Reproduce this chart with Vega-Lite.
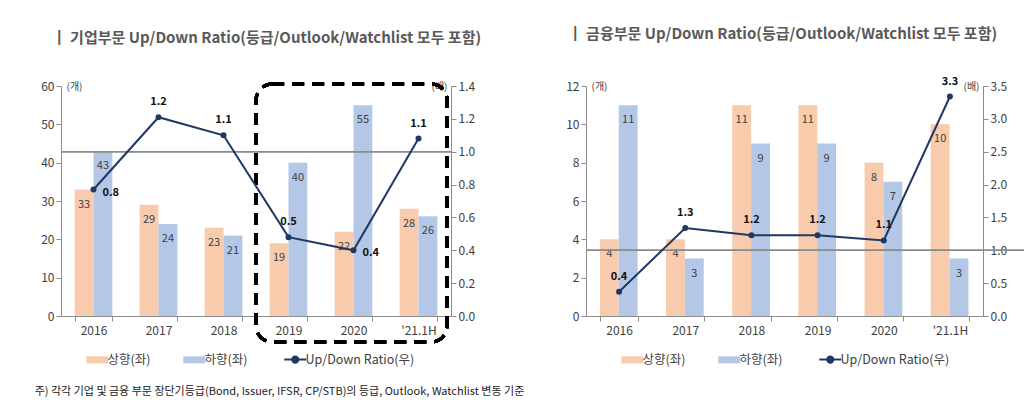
{
  "$schema": "https://vega.github.io/schema/vega-lite/v6.json",
  "background": "white",
  "padding": {"left": 34, "top": 26, "right": 5, "bottom": 5},
  "bounds": "flush",
  "spacing": 135,
  "config": {
    "font": "Noto Sans CJK KR",
    "view": {"stroke": null},
    "axis": {"labelFontSize": 12, "labelColor": "#404040", "domainColor": "#8c8c8c", "tickColor": "#8c8c8c", "grid": false, "tickSize": 5, "labelPadding": 2, "labelOverlap": false}
  },
  "title": {"text": "주) 각각 기업 및 금융 부문 장단기등급(Bond, Issuer, IFSR, CP/STB)의 등급, Outlook, Watchlist 변동 기준", "orient": "bottom", "anchor": "start", "fontSize": 11, "fontWeight": "normal", "color": "#222222", "offset": 19, "dx": -6},
  "datasets": {
    "corpBars": [
      {"year": "2016", "series": "상향(좌)", "value": 33}, {"year": "2016", "series": "하향(좌)", "value": 43},
      {"year": "2017", "series": "상향(좌)", "value": 29}, {"year": "2017", "series": "하향(좌)", "value": 24},
      {"year": "2018", "series": "상향(좌)", "value": 23}, {"year": "2018", "series": "하향(좌)", "value": 21},
      {"year": "2019", "series": "상향(좌)", "value": 19}, {"year": "2019", "series": "하향(좌)", "value": 40},
      {"year": "2020", "series": "상향(좌)", "value": 22}, {"year": "2020", "series": "하향(좌)", "value": 55},
      {"year": "'21.1H", "series": "상향(좌)", "value": 28}, {"year": "'21.1H", "series": "하향(좌)", "value": 26}
    ],
    "corpRatio": [
      {"year": "2016", "ratio": 0.77}, {"year": "2017", "ratio": 1.21}, {"year": "2018", "ratio": 1.1},
      {"year": "2019", "ratio": 0.48}, {"year": "2020", "ratio": 0.4}, {"year": "'21.1H", "ratio": 1.08}
    ],
    "finBars": [
      {"year": "2016", "series": "상향(좌)", "value": 4}, {"year": "2016", "series": "하향(좌)", "value": 11},
      {"year": "2017", "series": "상향(좌)", "value": 4}, {"year": "2017", "series": "하향(좌)", "value": 3},
      {"year": "2018", "series": "상향(좌)", "value": 11}, {"year": "2018", "series": "하향(좌)", "value": 9},
      {"year": "2019", "series": "상향(좌)", "value": 11}, {"year": "2019", "series": "하향(좌)", "value": 9},
      {"year": "2020", "series": "상향(좌)", "value": 8}, {"year": "2020", "series": "하향(좌)", "value": 7},
      {"year": "'21.1H", "series": "상향(좌)", "value": 10}, {"year": "'21.1H", "series": "하향(좌)", "value": 3}
    ],
    "finRatio": [
      {"year": "2016", "ratio": 0.37}, {"year": "2017", "ratio": 1.34}, {"year": "2018", "ratio": 1.23},
      {"year": "2019", "ratio": 1.23}, {"year": "2020", "ratio": 1.15}, {"year": "'21.1H", "ratio": 3.34}
    ]
  },
  "hconcat": [
    {
      "width": 390, "height": 230,
      "title": {"text": "┃ 기업부문 Up/Down Ratio(등급/Outlook/Watchlist 모두 포함)", "anchor": "start", "fontSize": 15, "fontWeight": "bold", "color": "#595959", "offset": 34, "dx": 11},
      "layer": [
        {
          "data": {"name": "corpBars"},
          "encoding": {
            "x": {"field": "year", "type": "nominal", "sort": ["2016", "2017", "2018", "2019", "2020", "'21.1H"], "scale": {"paddingInner": 0.42, "paddingOuter": 0.21}, "axis": {"title": null, "tickBand": "extent", "labelAngle": 0, "labelPadding": 4}},
            "y": {"field": "value", "type": "quantitative", "scale": {"domain": [0, 60]}, "axis": {"values": [0, 10, 20, 30, 40, 50, 60], "title": "(개)", "titleAngle": 0, "titleX": 5, "titleY": 0, "titleAlign": "left", "titleBaseline": "middle", "titleFontSize": 10, "titleFontWeight": "normal", "titleColor": "#404040"}}
          },
          "layer": [
            {
              "mark": {"type": "bar"},
              "encoding": {
                "xOffset": {"field": "series", "type": "nominal", "sort": ["상향(좌)", "하향(좌)"], "scale": {"paddingInner": 0, "paddingOuter": 0}},
                "color": {"field": "series", "type": "nominal", "scale": {"domain": ["상향(좌)", "하향(좌)", "Up/Down Ratio(우)"], "range": ["#F8CBAD", "#B4C7E7", "#1F3864"]},
                  "legend": {"orient": "none", "legendX": 30, "legendY": 267, "direction": "horizontal", "title": null, "labelFontSize": 12.5, "labelColor": "#404040", "symbolSize": 484, "columnPadding": 32, "labelOffset": 4,
                    "encode": {"symbols": {"update": {
                      "shape": {"signal": "datum.value === 'Up/Down Ratio(우)' ? 'M-1,0H1M-0.28,0A0.28,0.28,0,1,1,0.28,0A0.28,0.28,0,1,1,-0.28,0Z' : 'M-1,-0.32H1V0.32H-1Z'"},
                      "fill": {"signal": "datum.value === '상향(좌)' ? '#F8CBAD' : datum.value === '하향(좌)' ? '#B4C7E7' : '#1F3864'"},
                      "stroke": {"signal": "datum.value === 'Up/Down Ratio(우)' ? '#1F3864' : 'transparent'"},
                      "strokeWidth": {"signal": "datum.value === 'Up/Down Ratio(우)' ? 2 : 0"},
                      "opacity": {"value": 1}
                    }}}}}
              }
            },
            {
              "mark": {"type": "text", "baseline": "middle", "dy": 15, "fontSize": 11, "color": "#404040"},
              "encoding": {
                "xOffset": {"field": "series", "type": "nominal", "sort": ["상향(좌)", "하향(좌)"]},
                "text": {"field": "value", "type": "quantitative"}
              }
            },
            {
              "mark": {"type": "rect", "filled": false, "stroke": "#000000", "strokeWidth": 3, "strokeDash": [12, 8], "cornerRadius": 16, "clip": false},
              "encoding": {
                "x": {"datum": "2019", "type": "nominal", "bandPosition": -0.36},
                "x2": {"datum": "'21.1H", "bandPosition": 1.26},
                "y": {"datum": -6.8, "type": "quantitative"},
                "y2": {"datum": 60.5}
              }
            }
          ]
        },
        {
          "data": {"name": "corpRatio"},
          "encoding": {
            "x": {"field": "year", "type": "nominal", "sort": ["2016", "2017", "2018", "2019", "2020", "'21.1H"]},
            "y": {"field": "ratio", "type": "quantitative", "scale": {"domain": [0, 1.4]}, "axis": {"orient": "right", "values": [0, 0.2, 0.4, 0.6, 0.8, 1.0, 1.2, 1.4], "format": ".1f", "title": "(배)", "titleAngle": 0, "titleX": -4, "titleY": 0, "titleAlign": "right", "titleBaseline": "middle", "titleFontSize": 10, "titleFontWeight": "normal", "titleColor": "#404040"}}
          },
          "layer": [
            {
              "mark": {"type": "rule", "color": "#8c8c8c", "strokeWidth": 1},
              "encoding": {"x": null, "y": {"datum": 1, "type": "quantitative"}}
            },
            {
              "mark": {"type": "line", "color": "#1F3864", "strokeWidth": 2, "point": {"filled": true, "size": 36, "color": "#1F3864"}}
            },
            {
              "transform": [{"filter": {"field": "year", "oneOf": ["2017", "2018", "2019", "'21.1H"]}}],
              "mark": {"type": "text", "baseline": "middle", "dy": -15, "fontSize": 11, "fontWeight": "bold", "color": "#111111"},
              "encoding": {"text": {"field": "ratio", "type": "quantitative", "format": ".1f"}}
            },
            {
              "transform": [{"filter": {"field": "year", "oneOf": ["2016", "2020"]}}],
              "mark": {"type": "text", "baseline": "middle", "align": "left", "dx": 9, "dy": 3, "fontSize": 11, "fontWeight": "bold", "color": "#111111"},
              "encoding": {"text": {"field": "ratio", "type": "quantitative", "format": ".1f"}}
            }
          ]
        }
      ],
      "resolve": {"scale": {"y": "independent"}}
    },
    {
      "width": 397, "height": 230,
      "title": {"text": "┃ 금융부문 Up/Down Ratio(등급/Outlook/Watchlist 모두 포함)", "anchor": "start", "fontSize": 15, "fontWeight": "bold", "color": "#595959", "offset": 34, "dx": 2},
      "layer": [
        {
          "data": {"name": "finBars"},
          "encoding": {
            "x": {"field": "year", "type": "nominal", "sort": ["2016", "2017", "2018", "2019", "2020", "'21.1H"], "scale": {"paddingInner": 0.42, "paddingOuter": 0.21}, "axis": {"title": null, "tickBand": "extent", "labelAngle": 0, "labelPadding": 4}},
            "y": {"field": "value", "type": "quantitative", "scale": {"domain": [0, 12]}, "axis": {"values": [0, 2, 4, 6, 8, 10, 12], "title": "(개)", "titleAngle": 0, "titleX": 5, "titleY": 0, "titleAlign": "left", "titleBaseline": "middle", "titleFontSize": 10, "titleFontWeight": "normal", "titleColor": "#404040"}}
          },
          "layer": [
            {
              "mark": {"type": "bar"},
              "encoding": {
                "xOffset": {"field": "series", "type": "nominal", "sort": ["상향(좌)", "하향(좌)"], "scale": {"paddingInner": 0, "paddingOuter": 0}},
                "color": {"field": "series", "type": "nominal", "scale": {"domain": ["상향(좌)", "하향(좌)", "Up/Down Ratio(우)"], "range": ["#F8CBAD", "#B4C7E7", "#1F3864"]},
                  "legend": {"orient": "none", "legendX": 40, "legendY": 267, "direction": "horizontal", "title": null, "labelFontSize": 12.5, "labelColor": "#404040", "symbolSize": 484, "columnPadding": 32, "labelOffset": 4,
                    "encode": {"symbols": {"update": {
                      "shape": {"signal": "datum.value === 'Up/Down Ratio(우)' ? 'M-1,0H1M-0.28,0A0.28,0.28,0,1,1,0.28,0A0.28,0.28,0,1,1,-0.28,0Z' : 'M-1,-0.32H1V0.32H-1Z'"},
                      "fill": {"signal": "datum.value === '상향(좌)' ? '#F8CBAD' : datum.value === '하향(좌)' ? '#B4C7E7' : '#1F3864'"},
                      "stroke": {"signal": "datum.value === 'Up/Down Ratio(우)' ? '#1F3864' : 'transparent'"},
                      "strokeWidth": {"signal": "datum.value === 'Up/Down Ratio(우)' ? 2 : 0"},
                      "opacity": {"value": 1}
                    }}}}}
              }
            },
            {
              "mark": {"type": "text", "baseline": "middle", "dy": 15, "fontSize": 11, "color": "#404040"},
              "encoding": {
                "xOffset": {"field": "series", "type": "nominal", "sort": ["상향(좌)", "하향(좌)"]},
                "text": {"field": "value", "type": "quantitative"}
              }
            }
          ]
        },
        {
          "data": {"name": "finRatio"},
          "encoding": {
            "x": {"field": "year", "type": "nominal", "sort": ["2016", "2017", "2018", "2019", "2020", "'21.1H"]},
            "y": {"field": "ratio", "type": "quantitative", "scale": {"domain": [0, 3.5]}, "axis": {"orient": "right", "values": [0, 0.5, 1.0, 1.5, 2.0, 2.5, 3.0, 3.5], "format": ".1f", "title": "(배)", "titleAngle": 0, "titleX": -4, "titleY": 0, "titleAlign": "right", "titleBaseline": "middle", "titleFontSize": 10, "titleFontWeight": "normal", "titleColor": "#404040"}}
          },
          "layer": [
            {
              "mark": {"type": "rule", "color": "#8c8c8c", "strokeWidth": 1, "clip": false},
              "encoding": {
                "x": {"datum": "2016", "type": "nominal", "bandPosition": -0.36},
                "x2": {"datum": "'21.1H", "bandPosition": 2.72},
                "y": {"datum": 1, "type": "quantitative"}
              }
            },
            {
              "mark": {"type": "line", "color": "#1F3864", "strokeWidth": 2, "point": {"filled": true, "size": 36, "color": "#1F3864"}}
            },
            {
              "mark": {"type": "text", "baseline": "middle", "dy": -15, "fontSize": 11, "fontWeight": "bold", "color": "#111111"},
              "encoding": {"text": {"field": "ratio", "type": "quantitative", "format": ".1f"}}
            }
          ]
        }
      ],
      "resolve": {"scale": {"y": "independent"}}
    }
  ],
  "resolve": {"scale": {"color": "independent", "x": "independent", "y": "independent"}, "legend": {"color": "independent"}}
}
